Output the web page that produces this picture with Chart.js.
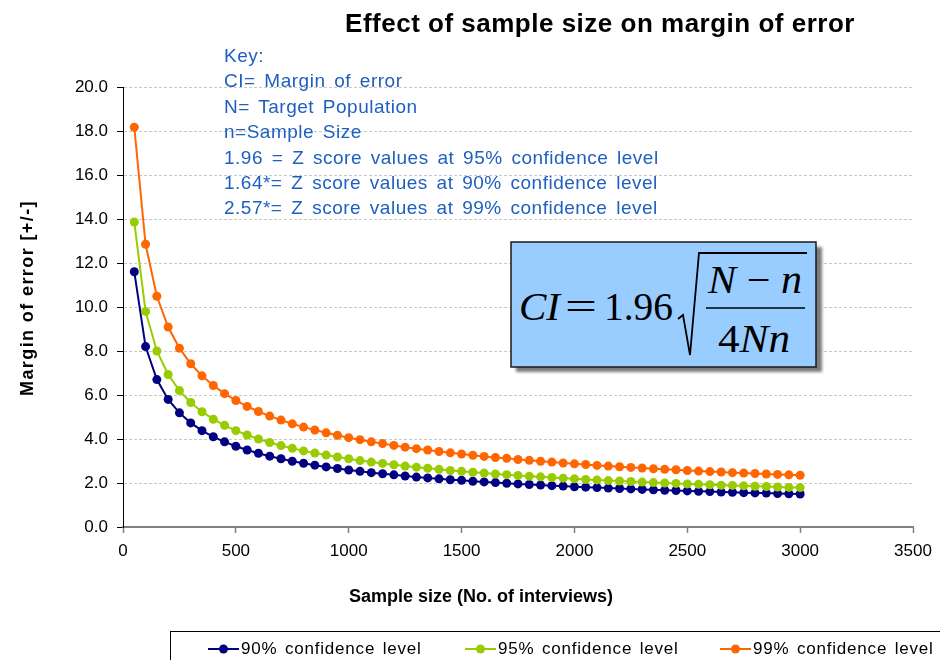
<!DOCTYPE html>
<html>
<head>
<meta charset="utf-8">
<script src="https://cdn.jsdelivr.net/npm/chart.js@4.4.1/dist/chart.umd.min.js"></script>
<style>
  body { margin: 0; background: #fff; overflow: hidden; }
  #wrap { position: relative; width: 940px; height: 660px; font-family: "Liberation Sans", Arial, sans-serif; }
  #chart { position: absolute; left: 0; top: 0; }
  .title { position: absolute; left: 300px; top: 8px; width: 600px; text-align: center; font-weight: bold; font-size: 26px; letter-spacing: 0.5px; color: #000; white-space: nowrap; }
  .key { position: absolute; left: 224px; top: 43px; font-size: 19px; line-height: 25.4px; letter-spacing: 0.5px; word-spacing: 3px; color: #1f5fbf; white-space: nowrap; }
  .ytitle { position: absolute; left: 27px; top: 298px; transform: translate(-50%, -50%) rotate(-90deg); font-weight: bold; font-size: 18px; letter-spacing: 1.4px; white-space: nowrap; color: #000; }
  .xtitle { position: absolute; left: 481px; top: 596px; transform: translate(-50%, -50%); font-weight: bold; font-size: 18px; white-space: nowrap; color: #000; }
  .legend { position: absolute; left: 170px; top: 631px; width: 800px; height: 40px; border: 1px solid #000; box-sizing: border-box; }
  .item { position: absolute; top: 7px; font-size: 17px; letter-spacing: 0.8px; word-spacing: 2px; color: #000; white-space: nowrap; display: flex; align-items: center; }
  .item svg { margin-right: 2px; }
  #formula { position: absolute; left: 0; top: 0; pointer-events: none; }
</style>
</head>
<body>
<div id="wrap">
  <canvas id="chart" width="940" height="660"></canvas>
  <div class="title">Effect of sample size on margin of error</div>
  <div class="key">
    Key:<br>
    CI= Margin of error<br>
    N= Target Population<br>
    n=Sample Size<br>
    1.96 = Z score values at 95% confidence level<br>
    1.64*= Z score values at 90% confidence level<br>
    2.57*= Z score values at 99% confidence level
  </div>
  <svg id="formula" width="940" height="660">
    <defs>
      <filter id="blur"><feGaussianBlur stdDeviation="1.5"/></filter>
    </defs>
    <rect x="516" y="247" width="306" height="125" fill="#7a7a7a" filter="url(#blur)"/>
    <rect x="511" y="242" width="305" height="125" fill="#99ccff" stroke="#1a1a1a" stroke-width="1.5"/>
    <g font-family="'Liberation Serif','Times New Roman',serif" fill="#000" font-size="40">
      <text x="519" y="320" font-style="italic" textLength="41" lengthAdjust="spacingAndGlyphs">CI</text>
      <text x="565" y="320" textLength="32" lengthAdjust="spacingAndGlyphs">=</text>
      <text x="604" y="320" textLength="69" lengthAdjust="spacingAndGlyphs">1.96</text>
      <text x="708" y="293" textLength="94" lengthAdjust="spacingAndGlyphs"><tspan font-style="italic">N</tspan> − <tspan font-style="italic">n</tspan></text>
      <text x="718" y="352" textLength="72" lengthAdjust="spacingAndGlyphs">4<tspan font-style="italic">Nn</tspan></text>
    </g>
    <polyline points="678,319 683,315 690,355 699,253 807,253" fill="none" stroke="#000" stroke-width="1.8"/>
    <line x1="706" y1="308" x2="805" y2="308" stroke="#000" stroke-width="1.5"/>
  </svg>
  <div class="ytitle">Margin of error [+/-]</div>
  <div class="xtitle">Sample size (No. of interviews)</div>
  <div class="legend" id="legend"></div>
</div>
<script>
// sample sizes 50..3000 step 50
const sampleSizes = [50, 100, 150, 200, 250, 300, 350, 400, 450, 500,
  550, 600, 650, 700, 750, 800, 850, 900, 950, 1000,
  1050, 1100, 1150, 1200, 1250, 1300, 1350, 1400, 1450, 1500,
  1550, 1600, 1650, 1700, 1750, 1800, 1850, 1900, 1950, 2000,
  2050, 2100, 2150, 2200, 2250, 2300, 2350, 2400, 2450, 2500,
  2550, 2600, 2650, 2700, 2750, 2800, 2850, 2900, 2950, 3000];

const moe90 = [11.60, 8.20, 6.70, 5.80, 5.19, 4.73, 4.38, 4.10, 3.87, 3.67,
  3.50, 3.35, 3.22, 3.10, 2.99, 2.90, 2.81, 2.73, 2.66, 2.59,
  2.53, 2.47, 2.42, 2.37, 2.32, 2.27, 2.23, 2.19, 2.15, 2.12,
  2.08, 2.05, 2.02, 1.99, 1.96, 1.93, 1.91, 1.88, 1.86, 1.83,
  1.81, 1.79, 1.77, 1.75, 1.73, 1.71, 1.69, 1.67, 1.66, 1.64,
  1.62, 1.61, 1.59, 1.58, 1.56, 1.55, 1.54, 1.52, 1.51, 1.50];

const moe95 = [13.86, 9.80, 8.00, 6.93, 6.20, 5.66, 5.24, 4.90, 4.62, 4.38,
  4.18, 4.00, 3.84, 3.70, 3.58, 3.46, 3.36, 3.27, 3.18, 3.10,
  3.02, 2.95, 2.89, 2.83, 2.77, 2.72, 2.67, 2.62, 2.57, 2.53,
  2.49, 2.45, 2.41, 2.38, 2.34, 2.31, 2.28, 2.25, 2.22, 2.19,
  2.16, 2.14, 2.11, 2.09, 2.07, 2.04, 2.02, 2.00, 1.98, 1.96,
  1.94, 1.92, 1.90, 1.89, 1.87, 1.85, 1.84, 1.82, 1.80, 1.79];

const moe99 = [18.17, 12.85, 10.49, 9.09, 8.13, 7.42, 6.87, 6.43, 6.06, 5.75,
  5.48, 5.25, 5.04, 4.86, 4.69, 4.54, 4.41, 4.28, 4.17, 4.06,
  3.97, 3.87, 3.79, 3.71, 3.63, 3.56, 3.50, 3.43, 3.37, 3.32,
  3.26, 3.21, 3.16, 3.12, 3.07, 3.03, 2.99, 2.95, 2.91, 2.87,
  2.84, 2.80, 2.77, 2.74, 2.71, 2.68, 2.65, 2.62, 2.60, 2.57,
  2.54, 2.52, 2.50, 2.47, 2.45, 2.43, 2.41, 2.39, 2.37, 2.35];

const seriesLabels = ['90% confidence level', '95% confidence level', '99% confidence level'];
const seriesColors = ['#000080', '#99cc00', '#ff6600'];
const seriesValues = [moe90, moe95, moe99];

const toPoints = vals => vals.map((v, i) => ({ x: sampleSizes[i], y: v }));

const datasets = seriesValues.map((vals, i) => ({
  label: seriesLabels[i],
  data: toPoints(vals),
  borderColor: seriesColors[i],
  backgroundColor: seriesColors[i],
  borderWidth: 2,
  pointRadius: 4.5,
  pointBorderWidth: 0,
  pointHoverRadius: 4.5,
  showLine: true,
  tension: 0
}));
// draw 99% first, 90% on top like the original
datasets.reverse();

const font = { family: '"Liberation Sans", Arial, sans-serif', size: 17 };

new Chart(document.getElementById('chart'), {
  type: 'scatter',
  data: { datasets },
  options: {
    responsive: false,
    animation: false,
    layout: { padding: { left: 0, right: 27, top: 87, bottom: 0 } },
    plugins: { legend: { display: false }, tooltip: { enabled: false } },
    scales: {
      x: {
        type: 'linear',
        min: 0, max: 3500,
        afterFit: s => { s.height = 133; },
        ticks: { stepSize: 500, color: '#000', font, padding: 8, maxRotation: 0, callback: v => String(v) },
        grid: { drawOnChartArea: false, drawTicks: true, tickLength: 6, tickColor: '#808080', tickWidth: 1.5 },
        border: { color: '#808080', width: 2 }
      },
      y: {
        min: 0, max: 20,
        afterFit: s => { s.width = 123; },
        ticks: { stepSize: 2, color: '#000', font, padding: 9, callback: v => v.toFixed(1) },
        grid: { color: '#c8c8c8', lineWidth: 1, tickColor: '#000', tickLength: 6, tickBorderDash: [] },
        border: { color: '#000', width: 1, dash: [3, 2] }
      }
    }
  }
});

// legend
const legend = document.getElementById('legend');
const legendX = [37, 294, 549];
seriesLabels.forEach((lab, i) => {
  const el = document.createElement('div');
  el.className = 'item';
  el.style.left = legendX[i] + 'px';
  el.innerHTML = `<svg width="31" height="12"><line x1="0" y1="6" x2="31" y2="6" stroke="${seriesColors[i]}" stroke-width="2"/><circle cx="15.5" cy="6" r="4.5" fill="${seriesColors[i]}"/></svg>${lab}`;
  legend.appendChild(el);
});
</script>
</body>
</html>
